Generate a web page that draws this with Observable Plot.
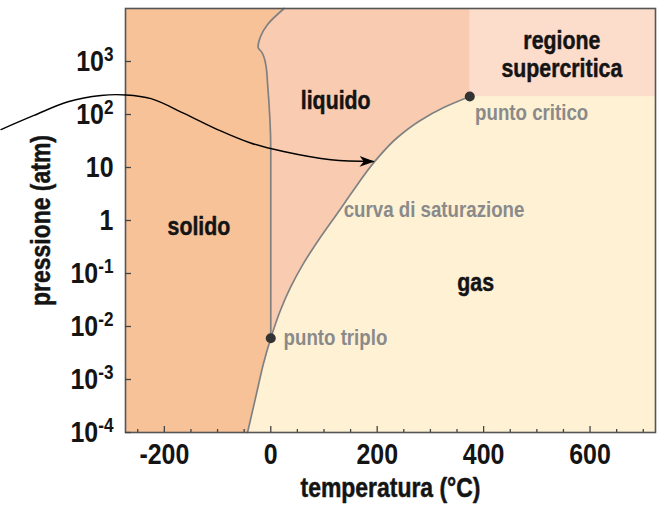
<!DOCTYPE html>
<html><head><meta charset="utf-8">
<script src="https://cdn.jsdelivr.net/npm/d3@7"></script>
<script src="https://cdn.jsdelivr.net/npm/@observablehq/plot@0.6"></script>
<style>
body{margin:0;background:#fff;}
#chart svg{display:block;}
</style></head><body><div id="chart"></div>
<script>
// ---- data (temperature °C, pressure atm) ----
const xDomain = [-273, 723];
const yDomain = [1e-4, 1e4];
const xMajorTicks = [-200, 0, 200, 400, 600];
const xMajorLabels = ["-200", "0", "200", "400", "600"];
const xMinorTicks = [-250, -150, -100, -50, 50, 100, 150, 250, 300, 350, 450, 500, 550, 650, 700];
const yTicks = [1e-4, 1e-3, 1e-2, 1e-1, 1, 10, 100, 1000];
const yTickLabels = ["10^-4", "10^-3", "10^-2", "10^-1", "1", "10", "10^2", "10^3"];

// sublimation curve (solid-gas), up to the triple point
const subT = [-43.7, -25.5, -13.7, 0];
const subP = [1e-4, 6.2e-4, 2.0e-3, 0.006];
// saturation curve (liquid-gas), triple point -> critical point
const satT = [0, 18, 37, 61.5, 93, 125, 155, 197, 238, 281, 325, 374];
const satP = [0.006, 0.020, 0.0545, 0.155, 0.478, 1.36, 3.68, 13.6, 36.8, 77, 135, 218];
// melting curve (solid-liquid), triple point -> top
const meltT = [0, 0, -6, -9, -17, -24, -19, -6, 25];
const meltP = [0.006, 21, 380, 830, 1500, 1870, 3000, 5000, 10000];

// decorative arrow
const arrowT = [-507, -445, -381, -319, -272, -225, -163, -100, -38, 24, 113, 193];
const arrowP = [52, 96, 174, 229, 234, 199, 105, 52, 29, 20, 14, 13];

const specialNames = ["punto triplo", "punto critico"];
const specialT = [0, 374];
const specialP = [0.006, 218];

const phaseNames = ["solido", "liquido", "gas", "regione\nsupercritica"];
const phaseT = [-135, 122, 385, 547];
const phaseP = [0.8, 190, 0.069, 1380];

const noteNames = ["punto critico", "punto triplo", "curva di saturazione"];
const noteT = [384, 24, 137];
const noteP = [105, 0.006, 1.6];

const xLabel = "temperatura (°C)";
const yLabel = "pressione (atm)";

// ---- build rows ----
const zip = (T, P) => T.map((t, i) => ({T: t, P: P[i]}));
const subRows = zip(subT, subP);
const satRows = zip(satT, satP);
const meltRows = zip(meltT, meltP);
const solidRows = subRows.concat(meltRows.slice(1));
const gasRows = subRows.concat(satRows.slice(1));
const arrowRows = zip(arrowT, arrowP);
const special = specialNames.map((n, i) => ({name: n, T: specialT[i], P: specialP[i]}));
const phases = phaseNames.map((n, i) => ({name: n, T: phaseT[i], P: phaseP[i]}));
const notes = noteNames.map((n, i) => ({name: n, T: noteT[i], P: noteP[i]}));

const FONT = '"Liberation Sans", Arial, sans-serif';
const C = {solid: "#f7c297", liquid: "#f9cbb0", superc: "#fcdccb", gas: "#fef1d4", curve: "#808080", note: "#8a8a8a", ink: "#141414"};
const CURVE = "monotone-y";

const chart = Plot.plot({
  width: 658, height: 505,
  marginLeft: 125, marginRight: 3, marginTop: 8, marginBottom: 73,
  x: {domain: xDomain},
  y: {type: "log", domain: yDomain},
  style: {fontFamily: FONT, fontWeight: "bold", background: "white", overflow: "visible"},
  marks: [
    Plot.frame({fill: C.liquid}),
    Plot.areaX(solidRows, {y: "P", x1: xDomain[0], x2: "T", fill: C.solid, curve: CURVE}),
    Plot.areaX(gasRows, {y: "P", x1: "T", x2: xDomain[1], fill: C.gas, curve: CURVE}),
    Plot.rect(special.slice(1), {x1: "T", x2: xDomain[1], y1: "P", y2: yDomain[1], fill: C.superc}),
    Plot.line(gasRows, {x: "T", y: "P", stroke: C.curve, strokeWidth: 1.7, curve: CURVE}),
    Plot.line(meltRows, {x: "T", y: "P", stroke: C.curve, strokeWidth: 1.7, curve: CURVE}),
    Plot.frame({stroke: "#555", strokeWidth: 1.6}),
    Plot.axisX({ticks: xMinorTicks, tickSize: -3, tickFormat: () => "", stroke: "#444", strokeWidth: 1.3, label: null}),
    Plot.axisX({ticks: xMajorTicks, tickSize: -6, tickFormat: () => "", stroke: "#444", strokeWidth: 1.3, label: null}),
    Plot.axisX({ticks: xMajorTicks, tickSize: 0, tickPadding: 11, tickFormat: d => xMajorLabels[xMajorTicks.indexOf(d)], fontSize: 29, fill: C.ink, stroke: C.ink, strokeWidth: 0.5, label: null}),
    Plot.axisY({ticks: yTicks, tickSize: -6, tickFormat: () => "", stroke: "#444", strokeWidth: 1.3, label: null}),
    Plot.axisY({ticks: yTicks, tickSize: 0, tickPadding: 12, tickFormat: d => yTickLabels[yTicks.indexOf(d)], fontSize: 29, fill: C.ink, stroke: C.ink, strokeWidth: 0.5, label: null}),
    Plot.dot(special, {x: "T", y: "P", r: 5, fill: "#333", stroke: null}),
    Plot.text(phases, {x: "T", y: "P", text: "name", fontSize: 26, fill: C.ink, stroke: C.ink, strokeWidth: 0.5, lineHeight: 1.08}),
    Plot.text(notes, {x: "T", y: "P", text: "name", fontSize: 22, fill: C.note, textAnchor: "start"}),
    Plot.text([xLabel], {text: d => d, frameAnchor: "bottom", dy: 56, fontSize: 27, fill: C.ink, stroke: C.ink, strokeWidth: 0.5, textAnchor: "middle", lineAnchor: "middle"}),
    Plot.text([yLabel], {text: d => d, frameAnchor: "left", dx: -84, rotate: -90, fontSize: 27, fill: C.ink, stroke: C.ink, strokeWidth: 0.5, textAnchor: "middle", lineAnchor: "middle"}),
    Plot.line(arrowRows, {x: "T", y: "P", stroke: "#000", strokeWidth: 1.4, curve: "catmull-rom"})
  ]
});

const NS = "http://www.w3.org/2000/svg";
// superscripts on y tick labels
chart.querySelectorAll('g[aria-label="y-axis tick label"] text').forEach(t => {
  const s = t.textContent;
  if (!s.includes("^")) return;
  const [base, exp] = s.split("^");
  t.textContent = "";
  const a = document.createElementNS(NS, "tspan"); a.textContent = base;
  const b = document.createElementNS(NS, "tspan"); b.textContent = exp;
  b.setAttribute("font-size", "20"); b.setAttribute("dy", "-10");
  t.appendChild(a); t.appendChild(b);
});

// condensed lettering: squeeze glyphs horizontally around each text's anchor
const squeeze = {"29": 0.86, "27": 0.85, "26": 0.82, "22": 0.85};
chart.querySelectorAll("text").forEach(t => {
  const g = t.closest("g[font-size]");
  const fs = g ? g.getAttribute("font-size") : "";
  const s = squeeze[fs] || 0.85;
  const x = +(t.getAttribute("x") || 0), y = t.getAttribute("y");
  const yNum = y && !/em$/.test(y) ? +y : 0;
  let tr = t.getAttribute("transform") || "";
  if (x || yNum) { tr += ` translate(${x},${yNum})`; t.removeAttribute("x"); if (yNum) t.removeAttribute("y"); }
  t.setAttribute("transform", (tr + ` scale(${s},1)`).trim());
});

// filled arrowhead on the decorative arrow (last line mark)
(() => {
  const defs = document.createElementNS(NS, "defs");
  const m = document.createElementNS(NS, "marker");
  m.setAttribute("id", "stealth"); m.setAttribute("viewBox", "0 0 14 10");
  m.setAttribute("refX", "13"); m.setAttribute("refY", "5");
  m.setAttribute("markerWidth", "15"); m.setAttribute("markerHeight", "11");
  m.setAttribute("markerUnits", "userSpaceOnUse"); m.setAttribute("orient", "auto");
  const p = document.createElementNS(NS, "path");
  p.setAttribute("d", "M0,0 L14,5 L0,10 L4,5 Z"); p.setAttribute("fill", "#000");
  m.appendChild(p); defs.appendChild(m); chart.insertBefore(defs, chart.firstChild);
  const lines = chart.querySelectorAll('g[aria-label="line"]');
  const path = lines.length ? lines[lines.length - 1].querySelector("path") : null;
  if (path) path.setAttribute("marker-end", "url(#stealth)");
})();

document.getElementById("chart").appendChild(chart);
</script>
</body></html>
